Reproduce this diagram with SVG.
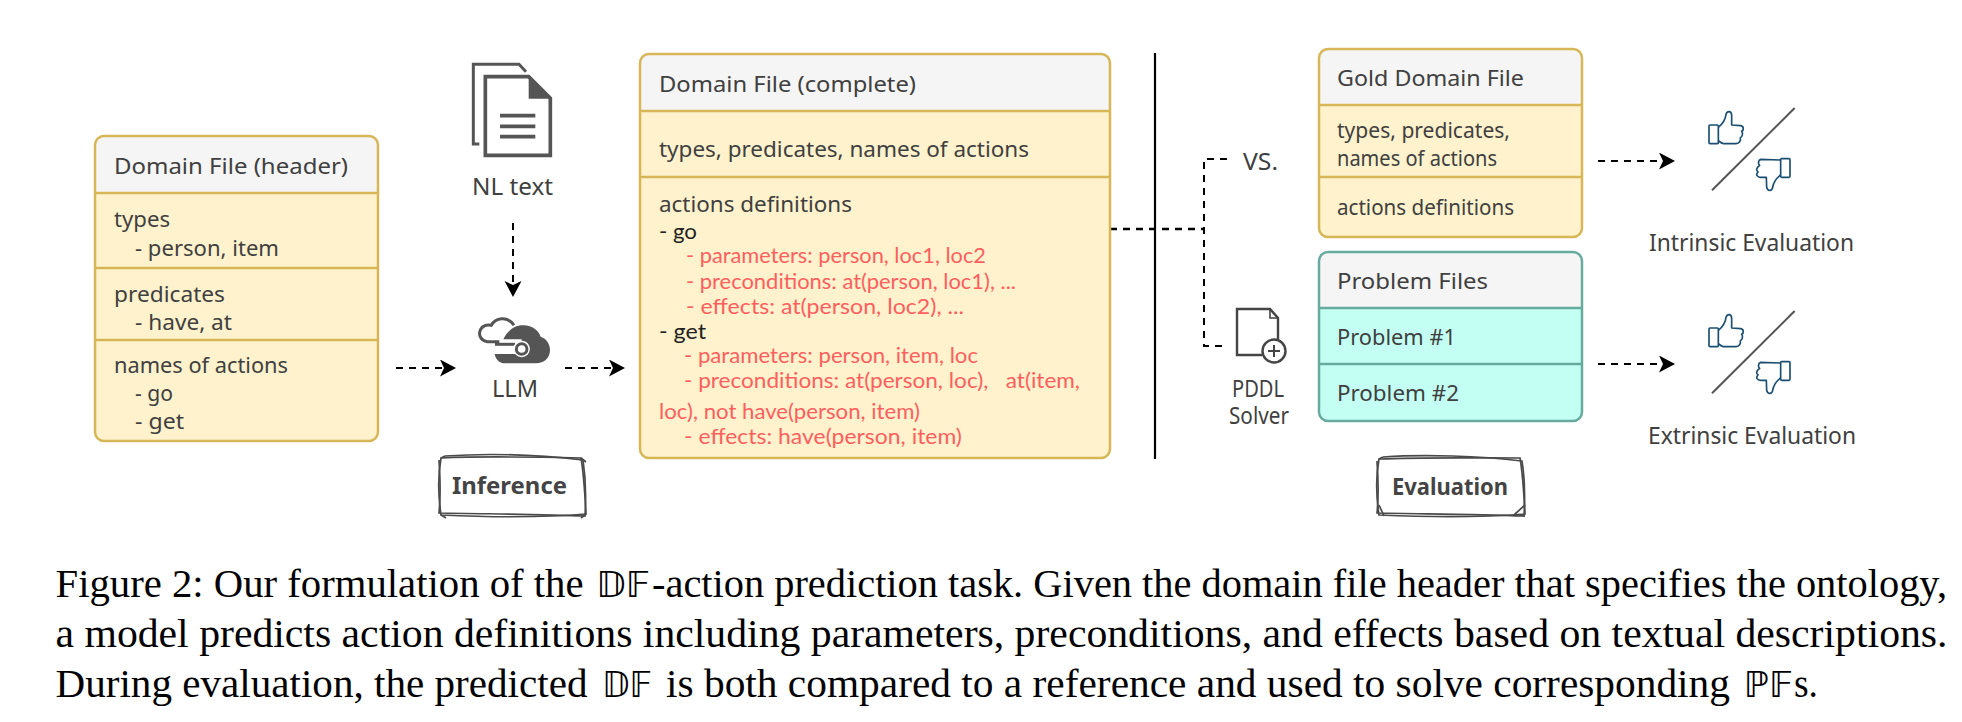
<svg xmlns="http://www.w3.org/2000/svg" xmlns:xlink="http://www.w3.org/1999/xlink" width="1962" height="722" viewBox="0 0 1962 722">
<style>
text{font-family:"Noto Sans","Liberation Sans",sans-serif;font-size:22.5px;fill:#404040}
.dk{fill:#222;font-family:Lato,"Noto Sans",sans-serif;font-size:21.5px}
.red{fill:#ff5f5f;font-family:Lato,"Noto Sans",sans-serif;font-size:21.5px}
.lbl{font-size:23px}
.bold{font-weight:700;font-size:24px;fill:#444}
.cap{font-family:"Liberation Serif",serif;font-size:40px;fill:#000}
.bb{font-family:"DejaVu Sans","DejaVu Serif",serif;font-size:36px;fill:#000}
.head{fill:#f5f5f5}
.y{fill:#fff2cc}
.t{fill:#c3fff3}
.ys{fill:none;stroke:#d6b656;stroke-width:2.5}
.ts{fill:none;stroke:#67ab9f;stroke-width:2.5}
.dash{fill:none;stroke:#000;stroke-width:2;stroke-dasharray:7 6}
.arrow{marker-end:url(#ah)}
.sk{fill:none;stroke:#4a4a4a;stroke-width:1.7}
.ic{fill:none;stroke:#555;stroke-width:4}
.icf{fill:#555}
.th{fill:none;stroke:#1b4f72;stroke-width:5;stroke-linejoin:round}
.sl{stroke:#555;stroke-width:6}
</style>
<defs>
<marker id="ah" markerUnits="userSpaceOnUse" markerWidth="20" markerHeight="20" refX="4" refY="8.5" orient="auto"><path d="M0,0L16,8.5L0,17L4,8.5Z" fill="#000"/></marker>
<g id="thumbs">
<line class="sl" x1="66" y1="301" x2="314" y2="54"/>
<rect class="th" x="57" y="105" width="28" height="56" rx="3"/>
<path class="th" d="M85,112C100,100 106,90 108,73C112,62 124,62 125,75L125,105L152,107C162,109 162,120 155,124C160,130 157,140 151,143C153,152 148,160 138,161L100,161C94,160 90,156 85,152"/>
<rect class="th" x="272" y="206" width="28" height="56" rx="3"/>
<path class="th" d="M272,210L212,208C204,210 204,222 209,226C200,232 197,240 204,246C196,254 202,262 212,262L229,262L230,292C234,306 246,303 248,292C250,280 254,268 272,255"/>
</g>
</defs>

<g id="connectors">
<path class="dash arrow" d="M396,368H444"/>
<path class="dash arrow" d="M565,368H613"/>
<path class="dash arrow" d="M513,223V285"/>
<path class="dash" style="stroke-width:2.6" d="M1110,229H1204"/>
<path class="dash" d="M1227,159H1204V346H1223"/>
<path class="dash arrow" d="M1598,161H1663"/>
<path class="dash arrow" d="M1598,364H1663"/>
</g>

<line id="divider" x1="1155" y1="53" x2="1155" y2="459" stroke="#000" stroke-width="2.2"/>

<g id="domain-header">
<rect class="y" x="95" y="136" width="283" height="305" rx="9"/>
<path class="head" d="M95,193V145a9,9 0 0 1 9,-9H369a9,9 0 0 1 9,9V193Z"/>
<rect class="ys" x="95" y="136" width="283" height="305" rx="9"/>
<path class="ys" d="M95,193H378M95,268H378M95,340H378"/>
<text x="114" y="174" textLength="234" lengthAdjust="spacingAndGlyphs">Domain File (header)</text>
<text x="114" y="227" textLength="56" lengthAdjust="spacingAndGlyphs">types</text>
<text x="135" y="256" textLength="144" lengthAdjust="spacingAndGlyphs">- person, item</text>
<text x="114" y="302" textLength="111" lengthAdjust="spacingAndGlyphs">predicates</text>
<text x="135" y="330" textLength="97" lengthAdjust="spacingAndGlyphs">- have, at</text>
<text x="114" y="373" textLength="174" lengthAdjust="spacingAndGlyphs">names of actions</text>
<text x="135" y="401" textLength="38" lengthAdjust="spacingAndGlyphs">- go</text>
<text x="135" y="429" textLength="49" lengthAdjust="spacingAndGlyphs">- get</text>
</g>

<g id="nl-text">
<g transform="translate(450,50) scale(.3333)">
<path d="M88,282H70V43H207L228,65" fill="none" stroke="#555" stroke-width="9"/>
<path d="M106,80H236L301,145V316H106Z" fill="#fff" stroke="#555" stroke-width="11"/>
<path class="icf" d="M236,76L306,146H236Z"/>
<path d="M150,197H256M150,229H256M150,260H256" stroke="#555" stroke-width="11"/>
</g>
<text class="lbl" x="472" y="195" textLength="81" lengthAdjust="spacingAndGlyphs">NL text</text>
</g>

<g id="llm">
<g transform="translate(450,50) scale(.3333)">
<path d="M148,875H112C92,873 86,855 90,843C94,828 110,822 124,826C135,805 172,795 192,826" fill="none" stroke="#555" stroke-width="9"/>
<path class="icf" d="M160,868C172,842 195,825 220,826C248,826 265,842 272,860C290,866 300,882 300,900C300,924 282,940 258,940H165C150,940 137,930 134,912L215,912V868Z"/>
<path d="M135,883H195" stroke="#555" stroke-width="9"/>
<circle cx="215" cy="897" r="25" fill="#fff"/>
<circle cx="215" cy="897" r="16" fill="#fff" stroke="#555" stroke-width="9"/>
<path d="M240,897C240,880 225,868 215,868H262V925H215C228,925 240,912 240,897Z" fill="#555"/>
</g>
<text class="lbl" x="492" y="397" textLength="46" lengthAdjust="spacingAndGlyphs">LLM</text>
</g>

<g id="domain-complete">
<rect class="y" x="640" y="54" width="470" height="404" rx="9"/>
<path class="head" d="M640,111V63a9,9 0 0 1 9,-9H1101a9,9 0 0 1 9,9V111Z"/>
<rect class="ys" x="640" y="54" width="470" height="404" rx="9"/>
<path class="ys" d="M640,111H1110M640,177H1110"/>
<text x="659" y="92" textLength="257" lengthAdjust="spacingAndGlyphs">Domain File (complete)</text>
<text x="659" y="157" textLength="370" lengthAdjust="spacingAndGlyphs">types, predicates, names of actions</text>
<text x="659" y="212" textLength="193" lengthAdjust="spacingAndGlyphs">actions definitions</text>
<text class="dk" x="659" y="239" textLength="38" lengthAdjust="spacingAndGlyphs">- go</text>
<text class="red" x="686" y="263" textLength="300" lengthAdjust="spacingAndGlyphs">- parameters: person, loc1, loc2</text>
<text class="red" x="686" y="289" textLength="330" lengthAdjust="spacingAndGlyphs">- preconditions: at(person, loc1), ...</text>
<text class="red" x="686" y="314" textLength="278" lengthAdjust="spacingAndGlyphs">- effects: at(person, loc2), ...</text>
<text class="dk" x="659" y="339" textLength="47" lengthAdjust="spacingAndGlyphs">- get</text>
<text class="red" x="684" y="363" textLength="294" lengthAdjust="spacingAndGlyphs">- parameters: person, item, loc</text>
<text class="red" x="684" y="388" textLength="396" lengthAdjust="spacingAndGlyphs" xml:space="preserve">- preconditions: at(person, loc),   at(item,</text>
<text class="red" x="659" y="419" textLength="261" lengthAdjust="spacingAndGlyphs">loc), not have(person, item)</text>
<text class="red" x="684" y="444" textLength="278" lengthAdjust="spacingAndGlyphs">- effects: have(person, item)</text>
</g>

<g id="vs">
<text class="lbl" x="1243" y="170" textLength="35" lengthAdjust="spacingAndGlyphs">VS.</text>
</g>

<g id="pddl-solver">
<path d="M1262,355H1237V309H1270L1278,318V340" fill="none" stroke="#444" stroke-width="2.4"/>
<path d="M1270,309V318H1278" fill="none" stroke="#444" stroke-width="1.6"/>
<circle cx="1274" cy="351" r="11.5" fill="#fff" stroke="#444" stroke-width="2.4"/>
<path d="M1268,351H1280M1274,345V357" stroke="#444" stroke-width="2"/>
<text class="lbl" x="1232" y="397" textLength="52" lengthAdjust="spacingAndGlyphs">PDDL</text>
<text class="lbl" x="1229" y="424" textLength="60" lengthAdjust="spacingAndGlyphs">Solver</text>
</g>

<g id="gold-domain">
<rect class="y" x="1319" y="49" width="263" height="188" rx="9"/>
<path class="head" d="M1319,105V58a9,9 0 0 1 9,-9H1573a9,9 0 0 1 9,9V105Z"/>
<rect class="ys" x="1319" y="49" width="263" height="188" rx="9"/>
<path class="ys" d="M1319,105H1582M1319,177H1582"/>
<text x="1337" y="86" textLength="187" lengthAdjust="spacingAndGlyphs">Gold Domain File</text>
<text x="1337" y="138" textLength="173" lengthAdjust="spacingAndGlyphs">types, predicates,</text>
<text x="1337" y="166" textLength="160" lengthAdjust="spacingAndGlyphs">names of actions</text>
<text x="1337" y="215" textLength="177" lengthAdjust="spacingAndGlyphs">actions definitions</text>
</g>

<g id="problem-files">
<rect class="t" x="1319" y="252" width="263" height="169" rx="9"/>
<path class="head" d="M1319,308V261a9,9 0 0 1 9,-9H1573a9,9 0 0 1 9,9V308Z"/>
<rect class="ts" x="1319" y="252" width="263" height="169" rx="9"/>
<path class="ts" d="M1319,308H1582M1319,364H1582"/>
<text x="1337" y="289" textLength="151" lengthAdjust="spacingAndGlyphs">Problem Files</text>
<text x="1337" y="345" textLength="119" lengthAdjust="spacingAndGlyphs">Problem #1</text>
<text x="1337" y="401" textLength="122" lengthAdjust="spacingAndGlyphs">Problem #2</text>
</g>

<g id="intrinsic">
<use xlink:href="#thumbs" href="#thumbs" transform="translate(1690,90) scale(.3333)"/>
<text class="lbl" x="1649" y="251" textLength="205" lengthAdjust="spacingAndGlyphs">Intrinsic Evaluation</text>
</g>
<g id="extrinsic">
<use xlink:href="#thumbs" href="#thumbs" transform="translate(1690,293) scale(.3333)"/>
<text class="lbl" x="1648" y="444" textLength="208" lengthAdjust="spacingAndGlyphs">Extrinsic Evaluation</text>
</g>

<g id="inference">
<path class="sk" d="M441,458C485,456 535,457 581,458C584,475 585,495 586,514C540,518 485,517 441,515C438,495 438,475 441,458Z"/>
<path class="sk" d="M445,456C490,453 540,455 583,460C586,480 586,500 585,516C540,514 490,514 439,513C441,495 440,475 439,460"/>
<path class="sk" d="M441,458L445,456M581,458L586,462M441,515L446,518M586,514L581,518"/>
<text class="bold" x="452" y="494" textLength="115" lengthAdjust="spacingAndGlyphs">Inference</text>
</g>
<g id="evaluation">
<path class="sk" d="M1379,459C1425,457 1475,458 1520,458C1523,475 1524,495 1525,514C1475,518 1425,517 1379,515C1376,495 1376,475 1379,459Z"/>
<path class="sk" d="M1383,457C1425,454 1480,456 1522,461C1525,480 1525,500 1524,516C1475,514 1425,514 1377,513C1379,495 1378,475 1377,461"/>
<path class="sk" d="M1379,505L1384,516M1379,459L1383,457M1525,505L1515,514L1525,516"/>
<text class="bold" x="1392" y="495" textLength="116" lengthAdjust="spacingAndGlyphs">Evaluation</text>
</g>

<g id="caption">
<text class="cap" x="55.5" y="597" textLength="528" lengthAdjust="spacingAndGlyphs">Figure 2: Our formulation of the</text>
<text class="bb" x="596" y="597" textLength="54" lengthAdjust="spacingAndGlyphs">𝔻𝔽</text>
<text class="cap" x="652" y="597" textLength="1295" lengthAdjust="spacingAndGlyphs">-action prediction task. Given the domain file header that specifies the ontology,</text>
<text class="cap" x="55.5" y="647" textLength="1892" lengthAdjust="spacingAndGlyphs">a model predicts action definitions including parameters, preconditions, and effects based on textual descriptions.</text>
<text class="cap" x="55.5" y="697" textLength="532" lengthAdjust="spacingAndGlyphs">During evaluation, the predicted</text>
<text class="bb" x="602" y="697" textLength="50" lengthAdjust="spacingAndGlyphs">𝔻𝔽</text>
<text class="cap" x="666" y="697" textLength="1064" lengthAdjust="spacingAndGlyphs">is both compared to a reference and used to solve corresponding</text>
<text class="bb" x="1744" y="697" textLength="49" lengthAdjust="spacingAndGlyphs">ℙ𝔽</text>
<text class="cap" x="1794" y="697" textLength="24" lengthAdjust="spacingAndGlyphs">s.</text>
</g>
</svg>
